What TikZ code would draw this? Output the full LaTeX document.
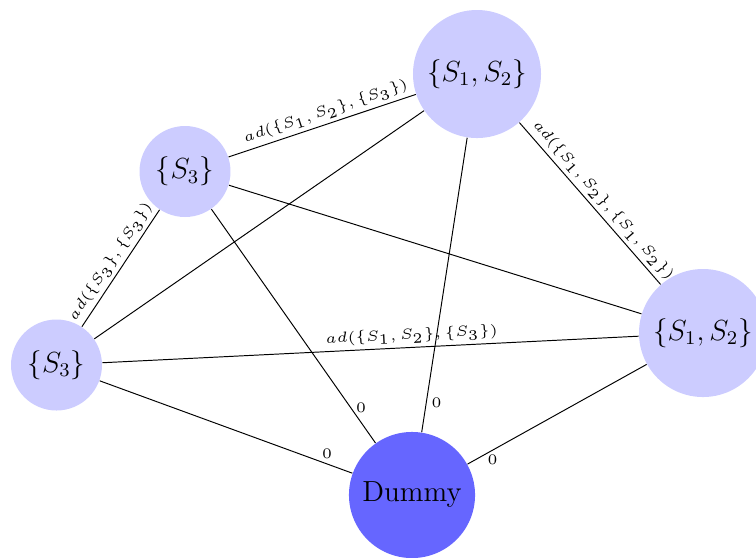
\documentclass[tikz,border=0pt]{standalone}
\usepackage{graphicx}
\usepackage{tikz}
\newcommand{\elab}[1]{\scalebox{1.2}{\tiny$#1$}}
\begin{document}
\begin{tikzpicture}[x=0.41322pt,y=-0.41322pt,
  setnode/.style={circle,fill=blue!20,inner sep=0pt,font=\large},
  dummynode/.style={circle,fill=blue!60,inner sep=0pt,font=\large},
  small/.style={minimum size=37.6pt},
  big/.style={minimum size=52.9pt},
  edgelab/.style={inner sep=1.5pt,sloped},
  zerolab/.style={inner sep=2pt}]
\useasboundingbox (0,0) rectangle (756,557);
\node[setnode,small] (A) at (56.5,365) {$\{S_3\}$};
\node[setnode,small] (B) at (185,171.5) {$\{S_3\}$};
\node[setnode,big] (C) at (477,74) {$\{S_1,S_2\}$};
\node[setnode,big] (D) at (703,333) {$\{S_1,S_2\}$};
\node[dummynode,minimum size=52.1pt] (E) at (412,495) {Dummy};
\draw (A) -- node[edgelab,pos=0.5,above] {\elab{ad(\{S_3\},\{S_3\})}} (B);
\draw (B) -- node[edgelab,pos=0.54,above] {\elab{ad(\{S_1,S_2\},\{S_3\})}} (C);
\draw (C) -- node[edgelab,pos=0.53,above] {\elab{ad(\{S_1,S_2\},\{S_1,S_2\})}} (D);
\draw (A) -- node[edgelab,pos=0.578,above] {\elab{ad(\{S_1,S_2\},\{S_3\})}} (D);
\draw (A) -- (C);
\draw (B) -- (D);
\draw (A) -- node[zerolab,pos=0.9,above] {\elab{0}} (E);
\draw (B) -- node[zerolab,pos=0.85,right] {\elab{0}} (E);
\draw (C) -- node[zerolab,pos=0.9,right] {\elab{0}} (E);
\draw (D) -- node[zerolab,pos=0.86,below] {\elab{0}} (E);
\end{tikzpicture}
\end{document}
